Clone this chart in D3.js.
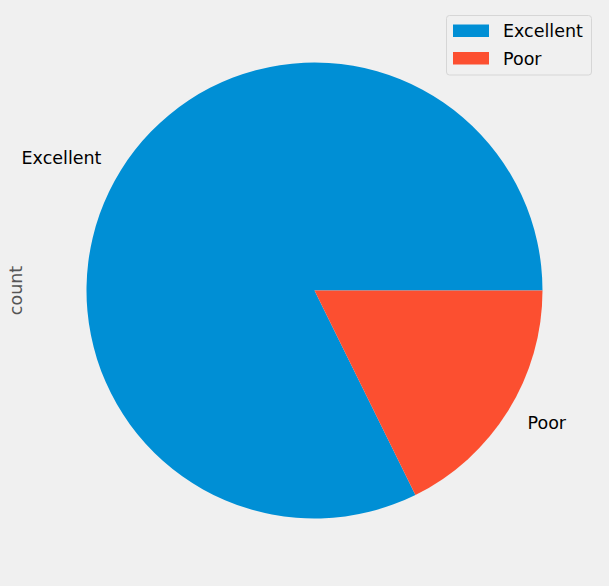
<!DOCTYPE html>
<html><head><meta charset="utf-8">
<script src="https://cdn.jsdelivr.net/npm/d3@7"></script>
<style>body{margin:0;background:#f0f0f0;}svg{display:block;}</style>
</head><body>
<script>
const categories = ["Excellent", "Poor"];
const counts = [823, 177];
const colors = ["#008fd5", "#fc4f30"];
const yLabel = "count";

const W = 609, H = 586;
const cx = 314.5, cy = 290.5, R = 228;
const font = "DejaVu Sans, sans-serif";
const fs = 17.5;

const svg = d3.select("body").append("svg").attr("width", W).attr("height", H)
  .style("background", "#f0f0f0");

const data = categories.map((c, i) => ({cat: c, value: counts[i], color: colors[i]}));
// matplotlib: start at 3 o'clock, counterclockwise. d3: 0 at 12 o'clock, clockwise.
const pie = d3.pie().value(d => d.value).sort(null)
  .startAngle(Math.PI / 2).endAngle(Math.PI / 2 - 2 * Math.PI);
const arcs = pie(data);
const arc = d3.arc().innerRadius(0).outerRadius(R);

const g = svg.append("g").attr("transform", `translate(${cx},${cy})`);
g.selectAll("path").data(arcs).enter().append("path")
  .attr("d", arc).attr("fill", d => d.data.color);

// labels at 1.1 radius
g.selectAll("text.lbl").data(arcs).enter().append("text")
  .attr("class", "lbl")
  .each(function(d) {
    const a = (d.startAngle + d.endAngle) / 2;
    const x = Math.sin(a) * R * 1.1, y = -Math.cos(a) * R * 1.1;
    d3.select(this).attr("x", x).attr("y", y)
      .attr("text-anchor", x < 0 ? "end" : "start");
  })
  .attr("dy", "0.35em")
  .attr("font-family", font).attr("font-size", fs).attr("fill", "#000")
  .text(d => d.data.cat);

// y label
svg.append("text").attr("transform", `translate(22,${cy}) rotate(-90)`)
  .attr("text-anchor", "middle").attr("font-family", font).attr("font-size", fs)
  .attr("fill", "#555").text(yLabel);

// legend
const lg = svg.append("g");
lg.append("rect").attr("x", 446.5).attr("y", 15.5).attr("width", 145).attr("height", 59.5)
  .attr("rx", 3).attr("fill", "#f0f0f0").attr("stroke", "#d6d6d6").attr("stroke-width", 1);
data.forEach((d, i) => {
  const y = 24.5 + i * 27.5;
  lg.append("rect").attr("x", 453).attr("y", y).attr("width", 36).attr("height", 12.5).attr("fill", d.color);
  lg.append("text").attr("x", 503).attr("y", y + 12.5).attr("font-family", font)
    .attr("font-size", fs).attr("fill", "#000").text(d.cat);
});
</script>
</body></html>
